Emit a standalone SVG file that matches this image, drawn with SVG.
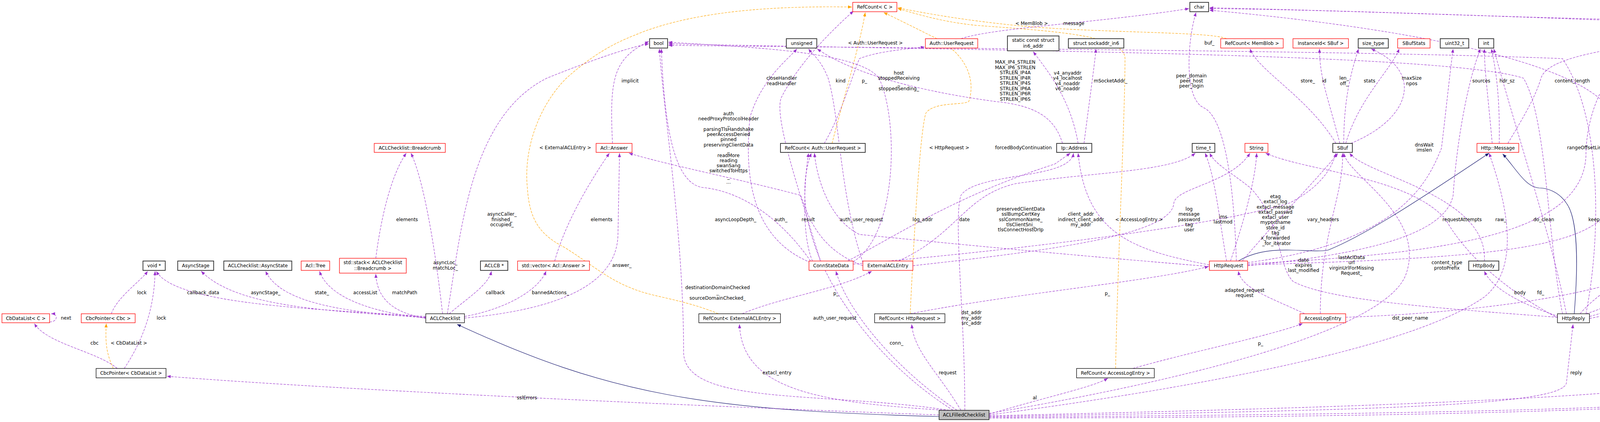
<svg xmlns="http://www.w3.org/2000/svg" width="4912" height="1080" viewBox="0 0 4912 1080">
<style>
text{font-family:"DejaVu Sans","Liberation Sans",sans-serif;font-size:12px;fill:#000;text-anchor:middle}
.n rect{fill:#fff;stroke:#000;stroke-width:1.3}
.r rect{stroke:#ff0000}
.k rect{stroke:#404040;stroke-width:2}
.e{fill:none;stroke:#9a32cd;stroke-width:1.1;stroke-dasharray:6,3;marker-end:url(#ap)}
.o{fill:none;stroke:#ffa500;stroke-width:1.1;stroke-dasharray:6,3;marker-end:url(#ao)}
.s{fill:none;stroke:#191970;stroke-width:1.2;marker-end:url(#an)}
</style>
<defs>
<marker id="ap" viewBox="0 0 10 10" refX="10" refY="5" markerWidth="10" markerHeight="10" markerUnits="userSpaceOnUse" orient="auto"><path d="M0,1 L10,5 L0,9 z" fill="#9a32cd"/></marker>
<marker id="ao" viewBox="0 0 10 10" refX="10" refY="5" markerWidth="10" markerHeight="10" markerUnits="userSpaceOnUse" orient="auto"><path d="M0,1 L10,5 L0,9 z" fill="#ffa500"/></marker>
<marker id="an" viewBox="0 0 10 10" refX="10" refY="5" markerWidth="10" markerHeight="10" markerUnits="userSpaceOnUse" orient="auto"><path d="M0,1 L10,5 L0,9 z" fill="#191970"/></marker>
</defs>
<rect width="4912" height="1080" fill="#fff"/>
<g id="connectors">
<path class="s" d="M2404,1066 C1800,1050 1560,1010 1170,830"/>
<path class="e" d="M2404,1062 C1800,1040 900,1000 427,963"/>
<path class="e" d="M2430,1050 C2100,1000 1750,1040 1750,900 C1750,600 1700,300 1688,125"/>
<path class="e" d="M2420,1050 C2100,1030 1900,1000 1893,830"/>
<path class="e" d="M2450,1050 C2300,950 2170,800 2140,694"/>
<path class="e" d="M2440,1050 C2200,900 2000,600 2077,392"/>
<path class="e" d="M2460,1050 C2400,950 2340,900 2334,830"/>
<path class="e" d="M2470,1050 C2470,800 2440,560 2460,500 C2500,440 2740,460 2748,392"/>
<path class="e" d="M2532,1060 C2700,1010 2800,990 2836,968"/>
<path class="e" d="M2532,1058 C3000,980 3550,850 3600,700 C3650,550 3450,450 3440,392"/>
<path class="e" d="M2532,1062 C3000,1000 3600,900 3800,760 C3900,680 3850,500 3812,392"/>
<path class="e" d="M2532,1064 C3600,1040 4500,1010 4545,930 L4545,80 C4545,30 4480,40 4400,55 C4000,50 3400,25 3096,20"/>
<path class="e" d="M2532,1066 C3500,1050 4000,1040 4010,980 L4027,830"/>
<path class="e" d="M2532,1068 C3500,1060 4560,1050 4626,988"/>
<path class="e" d="M2532,1070 C3600,1068 4700,1050 4815,968"/>
<path class="e" d="M1090,810 C800,790 450,780 400,694"/>
<path class="e" d="M1090,812 C800,795 600,780 515,694"/>
<path class="e" d="M1090,813 C900,800 720,780 680,694"/>
<path class="e" d="M1090,814 C950,800 840,760 818,694"/>
<path class="e" d="M1092,815 C1000,800 965,760 962,701"/>
<path class="e" d="M1150,803 C1200,760 1250,730 1258,694"/>
<path class="e" d="M1189,810 C1300,790 1380,740 1398,694"/>
<path class="e" d="M1189,814 C1450,790 1580,720 1582,600 L1586,392"/>
<path class="e" d="M1133,803 C1110,600 1080,450 1052,392"/>
<path class="e" d="M1145,803 C1180,600 1200,300 1400,200 C1550,140 1620,120 1661,112"/>
<path class="e" d="M962,661 C975,560 1000,450 1040,392"/>
<path class="e" d="M1420,668 C1450,560 1520,450 1560,392"/>
<path class="e" d="M1568,367 C1560,200 1570,150 1661,106"/>
<path class="e" d="M300,943 C250,900 120,880 88,828"/>
<path class="o" d="M290,943 C270,900 270,870 272,828"/>
<path class="e" d="M318,943 C360,880 395,800 397,694"/>
<path class="e" d="M285,803 C300,760 360,720 378,694"/>
<path class="e" d="M127,824 C148,824 150,803 131,803"/>
<path class="e" d="M1900,803 C2000,760 2150,740 2232,694"/>
<path class="o" d="M1839,803 C1760,770 1680,760 1640,746 C1560,720 1520,680 1445,633 C1380,600 1355,560 1350,480 C1340,380 1380,270 1450,200 C1540,120 1600,100 1650,80 C1800,25 2000,15 2181,18"/>
<path class="e" d="M2110,367 C2150,300 2180,200 2200,150 C2250,130 2330,125 2367,120"/>
<path class="o" d="M2130,367 C2160,250 2200,120 2215,32"/>
<path class="e" d="M3096,682 C2700,650 2300,610 2200,600 C2120,560 2090,450 2085,392"/>
<path class="e" d="M2080,668 C2050,600 2060,450 2070,392"/>
<path class="e" d="M2330,803 C2600,750 2950,720 3094,682"/>
<path class="o" d="M2330,803 C2340,600 2355,340 2370,290 C2390,260 2460,270 2480,260 C2500,200 2470,130 2380,90 C2320,60 2280,40 2262,32"/>
<path class="e" d="M2900,943 C3050,900 3250,860 3335,828"/>
<path class="o" d="M2856,943 C2860,700 2880,300 2880,150 C2880,90 2700,80 2500,65 C2400,55 2330,30 2298,22"/>
<path class="o" d="M3140,99 C3100,80 2800,85 2600,65 C2450,50 2350,30 2298,20"/>
<path class="e" d="M4660,923 C4655,880 4650,860 4648,828"/>
<path class="o" d="M4740,923 C4750,890 4760,860 4770,835"/>
<path class="e" d="M3420,367 C3350,250 3220,180 3200,125"/>
<path class="e" d="M3430,367 C3400,250 3378,200 3378,125"/>
<path class="e" d="M3440,367 C3440,250 3460,180 3478,125"/>
<path class="e" d="M3445,367 C3480,250 3560,180 3582,125"/>
<path class="e" d="M3458,367 C3620,300 3640,180 3510,125"/>
<path class="e" d="M3820,367 C3810,250 3800,180 3800,125"/>
<path class="e" d="M3838,367 C3840,250 3830,180 3818,125"/>
<path class="e" d="M3860,367 C3900,300 3930,250 3945,200 C3960,150 4100,130 4200,114"/>
<path class="e" d="M4440,196 C4400,120 4300,60 4200,55 C3800,40 3400,25 3096,22"/>
<path class="s" d="M4030,803 C4040,680 4040,560 4010,520 C3990,490 3960,481 3940,481 C3905,479 3880,430 3847,394"/>
<path class="e" d="M3990,810 C3900,780 3820,740 3800,694"/>
<path class="e" d="M4045,803 C4080,760 4140,730 4155,694"/>
<path class="e" d="M4069,810 C4250,760 4370,700 4392,576"/>
<path class="e" d="M4069,815 C4300,770 4480,740 4485,680 L4470,222"/>
<path class="e" d="M4060,803 C4200,760 4230,700 4232,125"/>
<path class="e" d="M3987,812 C3700,790 3400,770 3310,720 C3270,680 3280,560 3200,480 C3150,440 3110,420 3097,392"/>
<path class="e" d="M3990,815 C3850,740 3750,650 3700,560 C3600,450 3350,440 3240,392"/>
<path class="e" d="M3800,668 C3810,500 3500,450 3455,392"/>
<path class="e" d="M4000,803 C3960,600 3960,300 3900,200 C3700,135 2500,130 1711,112"/>
<path class="e" d="M4060,803 C4100,600 4100,300 4000,150 C3500,130 2500,125 1711,116"/>
<path class="e" d="M4010,803 C3970,600 3900,400 3824,125"/>
<path class="e" d="M3194,680 C3500,650 3700,600 3720,500 C3730,350 3760,200 3790,125"/>
<path class="e" d="M3194,672 C3600,620 3660,450 3690,380 C3700,300 3710,200 3720,125"/>
<path class="e" d="M3096,678 C2900,640 2780,600 2760,392"/>
<path class="e" d="M3140,668 C3120,550 3110,450 3085,392"/>
<path class="e" d="M3150,668 C3190,550 3215,450 3217,392"/>
<path class="s" d="M3170,668 C3250,620 3350,650 3400,640 C3500,600 3650,500 3812,392"/>
<path class="e" d="M3180,668 C3280,550 3380,450 3425,392"/>
<path class="e" d="M3194,675 C3700,650 4050,600 4060,400 C4060,250 4150,130 4210,125"/>
<path class="e" d="M3194,678 C3800,660 4120,640 4130,500 L4130,300 C4100,200 3800,90 3096,26"/>
<path class="e" d="M3340,803 C3250,760 3180,740 3170,694"/>
<path class="e" d="M3380,803 C3380,600 3440,500 3437,392"/>
<path class="e" d="M3165,668 C3160,500 3140,300 3080,275 C3030,250 3040,100 3062,32"/>
<path class="e" d="M3445,812 C3800,800 4300,740 4330,600 C4340,400 4280,250 4245,125"/>
<path class="e" d="M2075,668 C2000,560 1900,490 1800,480 C1720,470 1700,300 1693,125"/>
<path class="e" d="M2075,672 C1950,620 1900,500 1920,300 C1950,200 2020,150 2040,125"/>
<path class="e" d="M2100,668 C2050,500 1980,300 2000,250 C2050,150 2150,60 2185,28"/>
<path class="e" d="M2170,668 C2300,600 2450,500 2700,420 L2740,392"/>
<path class="e" d="M2184,676 C2600,640 3100,580 3300,520 C3380,480 3410,430 3420,392"/>
<path class="e" d="M2184,670 C2300,600 2300,300 2250,200 C2200,130 1900,120 1711,108"/>
<path class="e" d="M2209,672 C2150,500 2150,300 2120,200 C2100,150 2080,140 2070,125"/>
<path class="e" d="M2209,680 C2100,640 2070,560 2050,500 C1900,460 1700,420 1610,392"/>
<path class="e" d="M2300,668 C2450,600 2470,500 2600,470 C2800,440 3000,440 3060,392"/>
<path class="e" d="M2337,680 C2700,640 3000,600 3005,520 C3010,480 3150,470 3200,392"/>
<path class="e" d="M2760,367 C2740,250 2680,180 2645,132"/>
<path class="e" d="M2775,367 C2790,250 2800,180 2806,125"/>
<path class="e" d="M2720,367 C2700,300 2650,270 2550,260 C2400,240 2200,200 2092,125"/>
<path class="e" d="M2460,99 C2550,70 2800,60 3044,22"/>
</g>
<g id="nodes">
<g id="n_refc" class="n r"><rect x="2183" y="6" width="113" height="24"/><text x="2239.5" y="22">RefCount&lt; C &gt;</text></g>
<g id="n_char" class="n k"><rect x="3046" y="6" width="48" height="24"/><text x="3070" y="22">char</text></g>
<g id="n_bool" class="n k"><rect x="1663" y="99" width="46" height="24"/><text x="1686" y="115">bool</text></g>
<g id="n_unsigned" class="n k"><rect x="2013" y="99" width="78" height="24"/><text x="2052" y="115">unsigned</text></g>
<g id="n_authur" class="n r"><rect x="2369" y="99" width="134" height="24"/><text x="2436" y="115">Auth::UserRequest</text></g>
<g id="n_in6" class="n k"><rect x="2579" y="92" width="132" height="38"/><text x="2645" y="107">static const struct</text><text x="2645" y="122">in6_addr</text></g>
<g id="n_sock" class="n k"><rect x="2735" y="99" width="142" height="24"/><text x="2806" y="115">struct sockaddr_in6</text></g>
<g id="n_rcmem" class="n r"><rect x="3125" y="99" width="160" height="24"/><text x="3205" y="115">RefCount&lt; MemBlob &gt;</text></g>
<g id="n_inst" class="n r"><rect x="3310" y="99" width="142" height="24"/><text x="3381" y="115">InstanceId&lt; SBuf &gt;</text></g>
<g id="n_size" class="n k"><rect x="3477" y="99" width="77" height="24"/><text x="3515.5" y="115">size_type</text></g>
<g id="n_sbst" class="n r"><rect x="3578" y="99" width="83" height="24"/><text x="3619.5" y="115">SBufStats</text></g>
<g id="n_u32" class="n k"><rect x="3687" y="99" width="73" height="24"/><text x="3723.5" y="115">uint32_t</text></g>
<g id="n_int" class="n k"><rect x="3785" y="99" width="39" height="24"/><text x="3804.5" y="115">int</text></g>
<g id="n_i64" class="n k"><rect x="4202" y="99" width="64" height="24"/><text x="4234" y="115">int64_t</text></g>
<g id="n_sline" class="n r"><rect x="4399" y="196" width="120" height="24"/><text x="4459" y="212">Http::StatusLine</text></g>
<g id="n_bc" class="n r"><rect x="958" y="367" width="182" height="23"/><text x="1049" y="383">ACLChecklist::Breadcrumb</text></g>
<g id="n_ans" class="n r"><rect x="1526" y="367" width="92" height="23"/><text x="1572" y="383">Acl::Answer</text></g>
<g id="n_rcaur" class="n k"><rect x="1998" y="367" width="217" height="23"/><text x="2106.5" y="383">RefCount&lt; Auth::UserRequest &gt;</text></g>
<g id="n_ip" class="n k"><rect x="2705" y="367" width="90" height="23"/><text x="2750" y="383">Ip::Address</text></g>
<g id="n_time" class="n k"><rect x="3052" y="367" width="58" height="23"/><text x="3081" y="383">time_t</text></g>
<g id="n_str" class="n r"><rect x="3187" y="367" width="59" height="23"/><text x="3216.5" y="383">String</text></g>
<g id="n_sbuf" class="n k"><rect x="3412" y="367" width="50" height="23"/><text x="3437" y="383">SBuf</text></g>
<g id="n_msg" class="n r"><rect x="3781" y="367" width="107" height="23"/><text x="3834.5" y="383">Http::Message</text></g>
<g id="n_hcr" class="n r"><rect x="4325" y="550" width="136" height="24"/><text x="4393" y="566">HttpHdrContRange</text></g>
<g id="n_void" class="n k"><rect x="366" y="668" width="57" height="24"/><text x="394.5" y="684">void *</text></g>
<g id="n_astage" class="n k"><rect x="455" y="668" width="92" height="24"/><text x="501" y="684">AsyncStage</text></g>
<g id="n_astate" class="n k"><rect x="573" y="668" width="174" height="24"/><text x="660" y="684">ACLChecklist::AsyncState</text></g>
<g id="n_tree" class="n r"><rect x="771" y="668" width="73" height="24"/><text x="807.5" y="684">Acl::Tree</text></g>
<g id="n_stack" class="n r"><rect x="869" y="661" width="171" height="38"/><text x="954.5" y="676">std::stack&lt; ACLChecklist</text><text x="954.5" y="691">::Breadcrumb &gt;</text></g>
<g id="n_aclcb" class="n k"><rect x="1230" y="668" width="70" height="24"/><text x="1265" y="684">ACLCB *</text></g>
<g id="n_vec" class="n r"><rect x="1325" y="668" width="184" height="24"/><text x="1417" y="684">std::vector&lt; Acl::Answer &gt;</text></g>
<g id="n_conn" class="n r"><rect x="2071" y="668" width="113" height="24"/><text x="2127.5" y="684">ConnStateData</text></g>
<g id="n_ext" class="n r"><rect x="2209" y="668" width="128" height="24"/><text x="2273" y="684">ExternalACLEntry</text></g>
<g id="n_req" class="n r"><rect x="3096" y="668" width="98" height="24"/><text x="3145" y="684">HttpRequest</text></g>
<g id="n_body" class="n k"><rect x="3760" y="668" width="77" height="24"/><text x="3798.5" y="684">HttpBody</text></g>
<g id="n_sc" class="n r"><rect x="4117" y="668" width="85" height="24"/><text x="4159.5" y="684">HttpHdrSc</text></g>
<g id="n_cbdl" class="n r"><rect x="5" y="803" width="122" height="23"/><text x="66" y="819">CbDataList&lt; C &gt;</text></g>
<g id="n_cbcp" class="n r"><rect x="208" y="803" width="138" height="23"/><text x="277" y="819">CbcPointer&lt; Cbc &gt;</text></g>
<g id="n_acl" class="n"><rect x="1090" y="803" width="99" height="23"/><text x="1139.5" y="819">ACLChecklist</text></g>
<g id="n_rcext" class="n"><rect x="1789" y="803" width="209" height="23"/><text x="1893.5" y="819">RefCount&lt; ExternalACLEntry &gt;</text></g>
<g id="n_rcreq" class="n"><rect x="2239" y="803" width="180" height="23"/><text x="2329" y="819">RefCount&lt; HttpRequest &gt;</text></g>
<g id="n_ale" class="n r"><rect x="3328" y="803" width="117" height="23"/><text x="3386.5" y="819">AccessLogEntry</text></g>
<g id="n_rep" class="n"><rect x="3987" y="803" width="82" height="23"/><text x="4028" y="819">HttpReply</text></g>
<g id="n_x509" class="n k"><rect x="4616" y="803" width="63" height="23"/><text x="4647.5" y="819">X509 *</text></g>
<g id="n_lpt" class="n r"><rect x="4704" y="795" width="168" height="38"/><text x="4788" y="810">Security::LockingPointer</text><text x="4788" y="825">&lt; T, UnLocker, Locker &gt;</text></g>
<g id="n_cbcpdl" class="n"><rect x="246" y="943" width="179" height="24"/><text x="335.5" y="959">CbcPointer&lt; CbDataList &gt;</text></g>
<g id="n_rcale" class="n"><rect x="2756" y="943" width="199" height="24"/><text x="2855.5" y="959">RefCount&lt; AccessLogEntry &gt;</text></g>
<g id="n_lpx" class="n"><rect x="4583" y="923" width="196" height="64"/><text x="4592" y="938" style="text-anchor:start">Security::LockingPointer</text><text x="4592" y="951" style="text-anchor:start">&lt; X509, X509_free_cpp,</text><text x="4594" y="965" style="text-anchor:start">HardFun&lt; int, X509 *, X509</text><text x="4681" y="978">_up_ref &gt; &gt;</text></g>
<g id="n_err" class="n"><rect x="4804" y="943" width="72" height="24"/><text x="4840" y="959">err_type</text></g>
<g id="n_filled" class="n"><rect x="2404" y="1050" width="128" height="24" style="fill:#bfbfbf"/><text x="2468" y="1066">ACLFilledChecklist</text></g>
</g>
<g id="labels">
<text x="1447" y="382">&lt; ExternalACLEntry &gt;</text>
<text x="1613" y="211">implicit</text>
<text x="2241" y="114">&lt; Auth::UserRequest &gt;</text>
<text x="2641" y="64">&lt; MemBlob &gt;</text>
<text x="2749" y="64">message</text>
<text x="4245" y="64">reason_</text>
<text x="2001" y="204">closeHandler</text><text x="2001" y="218">readHandler</text>
<text x="2152" y="211">kind</text><text x="2213" y="211">p_</text>
<text x="2301" y="191">host</text><text x="2301" y="204">stoppedReceiving</text><text x="2301" y="217">_</text><text x="2301" y="231">stoppedSending_</text>
<text x="2599" y="163">MAX_IP4_STRLEN</text><text x="2599" y="177">MAX_IP6_STRLEN</text><text x="2599" y="190">STRLEN_IP4A</text><text x="2599" y="204">STRLEN_IP4R</text><text x="2599" y="217">STRLEN_IP4S</text><text x="2599" y="231">STRLEN_IP6A</text><text x="2599" y="244">STRLEN_IP6R</text><text x="2599" y="258">STRLEN_IP6S</text>
<text x="2733" y="191">v4_anyaddr</text><text x="2733" y="204">v4_localhost</text><text x="2733" y="218">v4_noaddr</text><text x="2733" y="231">v6_noaddr</text>
<text x="2843" y="211">mSocketAddr_</text>
<text x="3096" y="114">buf_</text>
<text x="3050" y="198">peer_domain</text><text x="3050" y="211">peer_host</text><text x="3050" y="224">peer_login</text>
<text x="3348" y="211">store_</text><text x="3390" y="211">id</text>
<text x="3441" y="204">len_</text><text x="3441" y="218">off_</text>
<text x="3506" y="211">stats</text>
<text x="3614" y="204">maxSize</text><text x="3614" y="218">npos</text>
<text x="3792" y="211">sources</text><text x="3858" y="211">hdr_sz</text>
<text x="4025" y="211">content_length</text><text x="4350" y="211">elength</text>
<text x="1865" y="295">auth</text><text x="1865" y="308">needProxyProtocolHeader</text><text x="1865" y="321">_</text><text x="1865" y="335">parsingTlsHandshake</text><text x="1865" y="348">peerAccessDenied</text><text x="1865" y="361">pinned</text><text x="1865" y="375">preservingClientData</text><text x="1865" y="388">_</text><text x="1865" y="402">readMore</text><text x="1865" y="415">reading</text><text x="1865" y="428">swanSang</text><text x="1865" y="441">switchedToHttps</text><text x="1865" y="457">_</text><text x="1865" y="470">...</text>
<text x="2430" y="382">&lt; HttpRequest &gt;</text><text x="2620" y="382">forcedBodyContinuation</text>
<text x="3646" y="375">dnsWait</text><text x="3646" y="388">imslen</text>
<text x="4062" y="382">rangeOffsetLimit</text><text x="4172" y="382">lastAclName</text>
<text x="2613" y="539">preservedClientData</text><text x="2613" y="552">sslBumpCertKey</text><text x="2613" y="566">sslCommonName_</text><text x="2613" y="579">tlsClientSni_</text><text x="2613" y="592">tlsConnectHostOrIp</text>
<text x="3044" y="539">log</text><text x="3044" y="552">message</text><text x="3044" y="566">password</text><text x="3044" y="579">tag</text><text x="3044" y="592">user</text>
<text x="3265" y="507">etag</text><text x="3265" y="520">extacl_log</text><text x="3265" y="534">extacl_message</text><text x="3265" y="547">extacl_passwd</text><text x="3265" y="560">extacl_user</text><text x="3265" y="573">myportname</text><text x="3265" y="587">store_id</text><text x="3265" y="600">tag</text><text x="3265" y="613">x_forwarded</text><text x="3268" y="627">_for_iterator</text>
<text x="1042" y="566">elements</text>
<text x="1285" y="552">asyncCaller_</text><text x="1285" y="566">finished_</text><text x="1285" y="579">occupied_</text>
<text x="1540" y="566">elements</text>
<text x="1140" y="676">asyncLoc_</text><text x="1140" y="690">matchLoc_</text>
<text x="1592" y="683">answer_</text>
<text x="1883" y="566">asyncLoopDepth_</text><text x="1999" y="566">auth_</text><text x="2069" y="566">result</text><text x="2205" y="566">auth_user_request</text><text x="2362" y="566">log_addr</text><text x="2469" y="566">date</text>
<text x="2767" y="552">client_addr</text><text x="2767" y="566">indirect_client_addr</text><text x="2767" y="579">my_addr</text>
<text x="2916" y="566">&lt; AccessLogEntry &gt;</text>
<text x="3131" y="559">ims</text><text x="3131" y="572">lastmod</text>
<text x="3387" y="566">vary_headers</text><text x="3743" y="566">requestAttempts</text><text x="3842" y="566">raw_</text><text x="3952" y="566">do_clean</text><text x="4098" y="566">keep_alive</text><text x="4274" y="566">bodySizeMax</text><text x="4501" y="566">sline</text>
<text x="3337" y="670">date</text><text x="3337" y="683">expires</text><text x="3337" y="696">last_modified</text>
<text x="3460" y="663">lastAclData</text><text x="3460" y="676">url</text><text x="3460" y="690">virginUrlForMissing</text><text x="3460" y="703">Request_</text>
<text x="3704" y="676">content_type</text><text x="3704" y="690">protoPrefix</text>
<text x="4402" y="683">content_range</text>
<text x="4598" y="670">dst_rdns</text><text x="4598" y="683">rfc931</text><text x="4598" y="696">snmp_community</text>
<text x="1837" y="740">destinationDomainChecked</text><text x="1837" y="753">_</text><text x="1837" y="767">sourceDomainChecked_</text>
<text x="2140" y="755">p_</text><text x="2835" y="755">p_</text>
<text x="3186" y="747">adapted_request</text><text x="3186" y="760">request</text>
<text x="363" y="753">lock</text><text x="520" y="753">callback_data</text><text x="680" y="753">asyncStage_</text><text x="824" y="753">state_</text><text x="935" y="753">accessList</text><text x="1036" y="753">matchPath</text><text x="1268" y="753">callback</text><text x="1409" y="753">bannedActions_</text>
<text x="3891" y="753">body</text><text x="3944" y="753">fd_</text><text x="4168" y="753">surrogate_control</text>
<text x="169" y="818">next</text><text x="413" y="818">lock</text>
<text x="2137" y="818">auth_user_request</text>
<text x="2487" y="804">dst_addr</text><text x="2487" y="818">my_addr</text><text x="2487" y="831">src_addr</text>
<text x="3610" y="818">dst_peer_name</text>
<text x="242" y="882">cbc</text><text x="330" y="882">&lt; CbDataList &gt;</text>
<text x="2295" y="882">conn_</text><text x="3227" y="883">p_</text><text x="4682" y="882">raw</text>
<text x="4830" y="868">&lt; X509, X509_free_cpp,</text><text x="4830" y="882">HardFun&lt; int, X509 *,</text><text x="4830" y="895">X509_up_ref &gt; &gt;</text>
<text x="1989" y="958">extacl_entry</text><text x="2426" y="958">request</text><text x="4035" y="958">reply</text>
<text x="1349" y="1022">sslErrors</text><text x="2649" y="1022">al</text><text x="4630" y="1022">serverCert</text><text x="4787" y="1022">requestErrorType</text>
</g>
</svg>
